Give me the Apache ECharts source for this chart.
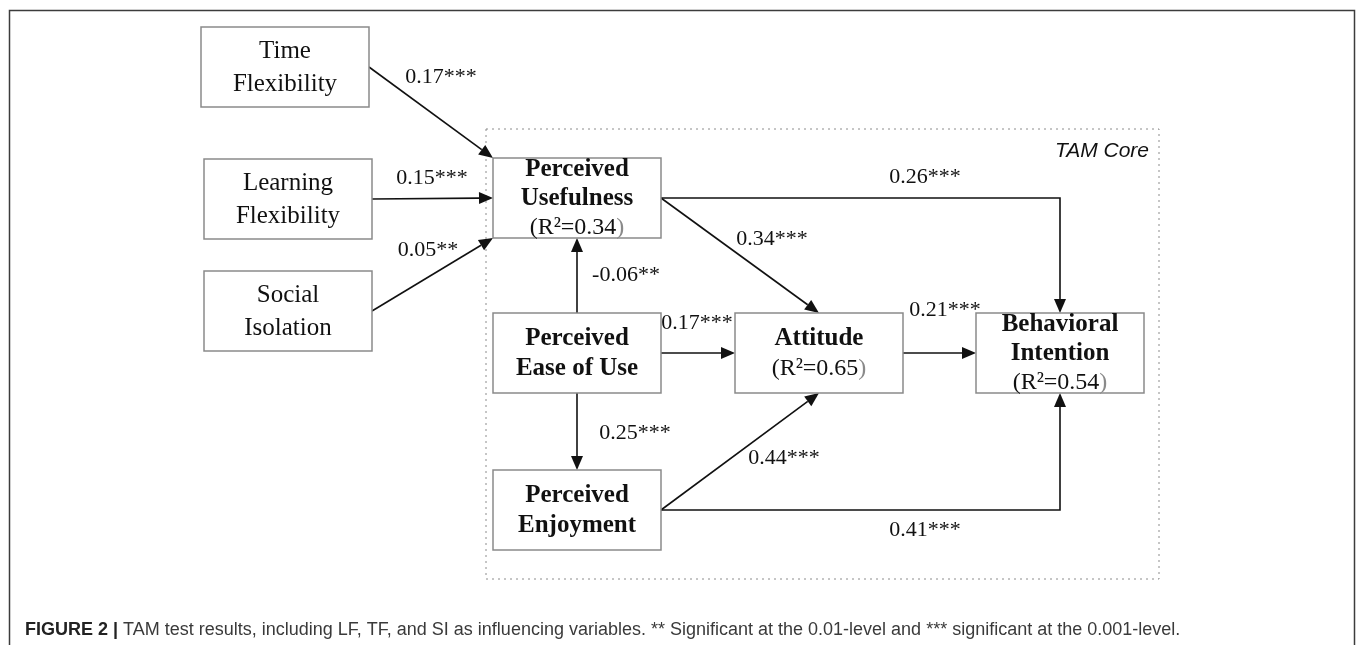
<!DOCTYPE html>
<html>
<head>
    <meta charset="utf-8">
    <title>TAM path model</title>
    <script src="https://cdn.jsdelivr.net/npm/echarts@6/dist/echarts.min.js"></script>
</head>
<body style="margin:0;background:#fff;">
<div id="main" style="width:1360px;height:645px;"></div>
<script type="text/javascript">
    // nodes of the path model (diagram units, y grows downwards)
    var nodeNames = ['Time\nFlexibility', 'Learning\nFlexibility', 'Social\nIsolation',
        'Perceived\nUsefulness', 'Perceived\nEase of Use', 'Perceived\nEnjoyment',
        'Attitude', 'Behavioral\nIntention'];
    var nodeR2 = [null, null, null, '0.34', null, null, '0.65', '0.54'];
    var nodeCore = [false, false, false, true, true, true, true, true];
    var nodeX = [285, 288, 288, 577, 577, 577, 819, 1060];
    var nodeY = [67, 199, 311, 198, 353, 510, 353, 353];

    // paths: from node, to node, coefficient, significance
    var edgeFrom = [0, 1, 2, 4, 3, 3, 4, 6, 4, 5, 5];
    var edgeTo   = [3, 3, 3, 3, 6, 7, 6, 7, 5, 6, 7];
    var edgeCoef = ['0.17', '0.15', '0.05', '-0.06', '0.34', '0.26', '0.17', '0.21', '0.25', '0.44', '0.41'];
    var edgeSig  = ['***', '***', '**', '**', '***', '***', '***', '***', '***', '***', '***'];

    // routing of each path (which box side it leaves / enters, straight or elbow)
    var edgeOut   = ['r', 'r', 'r', 't', 'r', 'r', 'r', 'r', 'b', 'r', 'r'];
    var edgeIn    = ['tl', 'l', 'bl', 'b', 't', 't', 'l', 'l', 't', 'b', 'b'];
    var edgeElbow = [false, false, false, false, false, true, false, false, false, false, true];
    var edgeLabelX = [441, 432, 428, 626, 772, 925, 697, 945, 635, 784, 925];
    var edgeLabelY = [77, 178, 250, 275, 239, 177, 323, 310, 433, 458, 530];

    var BOX_W = 168, BOX_H = 80;
    var SERIF = '"Liberation Serif", "Times New Roman", serif';

    function anchor(i, side) {
        var x = nodeX[i], y = nodeY[i];
        var hw = BOX_W / 2, hh = BOX_H / 2;
        if (side === 'r') return [x + hw, y];
        if (side === 'l') return [x - hw, y];
        if (side === 't') return [x, y - hh];
        if (side === 'b') return [x, y + hh];
        if (side === 'tl') return [x - hw, y - hh];
        if (side === 'bl') return [x - hw, y + hh];
        return [x, y];
    }

    function boxText(i) {
        var lines = nodeNames[i].split('\n');
        var key = nodeCore[i] ? 'b' : 'n';
        var parts = lines.map(function (l) { return '{' + key + '|' + l + '}'; });
        if (nodeR2[i]) parts.push('{r|(R²=' + nodeR2[i] + '}{g|)}');
        return parts.join('\n');
    }

    var myChart = echarts.init(document.getElementById('main'));

    var nodeData = nodeNames.map(function (n, i) { return [nodeX[i], nodeY[i], i]; });
    var edgeData = edgeFrom.map(function (f, i) { return [edgeLabelX[i], edgeLabelY[i], i]; });

    var option = {
        animation: false,
        grid: { left: 0, right: 0, top: 0, bottom: 0 },
        xAxis: { type: 'value', min: 0, max: 1360, show: false },
        yAxis: { type: 'value', min: 0, max: 645, inverse: true, show: false },
        graphic: [
            {   // outer frame
                type: 'rect', left: 7, top: 8, z: 0,
                shape: { width: 1345, height: 700 },
                style: { fill: 'none', stroke: '#3c3c3c', lineWidth: 1.5 }
            },
            {
                type: 'text', left: 25, top: 621,
                style: {
                    text: '{b|FIGURE 2 | }{n|TAM test results, including LF, TF, and SI as influencing variables. ** Significant at the 0.01-level and *** significant at the 0.001-level.}',
                    rich: {
                        b: { fontFamily: '"Liberation Sans", Arial, sans-serif', fontSize: 18, fontWeight: 'bold', fill: '#222' },
                        n: { fontFamily: '"Liberation Sans", Arial, sans-serif', fontSize: 18, fill: '#3a3a3a' }
                    }
                }
            }
        ],
        series: [
            {   // dotted TAM core frame
                type: 'custom',
                coordinateSystem: 'cartesian2d',
                silent: true,
                data: [[0, 0]],
                renderItem: function (params, api) {
                    var xs = [], ys = [];
                    nodeCore.forEach(function (c, i) {
                        if (c) { xs.push(nodeX[i]); ys.push(nodeY[i]); }
                    });
                    var p0 = api.coord([Math.min.apply(null, xs) - BOX_W / 2 - 7, Math.min.apply(null, ys) - BOX_H / 2 - 29]);
                    var p1 = api.coord([Math.max.apply(null, xs) + BOX_W / 2 + 15, Math.max.apply(null, ys) + BOX_H / 2 + 29]);
                    return {
                        type: 'group',
                        children: [
                            {
                                type: 'rect',
                                shape: { x: p0[0], y: p0[1], width: p1[0] - p0[0], height: p1[1] - p0[1] },
                                style: { fill: 'none', stroke: '#8c8c8c', lineWidth: 1, lineDash: [2, 4] }
                            },
                            {
                                type: 'text',
                                style: {
                                    text: 'TAM Core', x: p1[0] - 10, y: p0[1] + 22,
                                    align: 'right', verticalAlign: 'middle',
                                    font: 'italic 21px "Liberation Sans", Arial, sans-serif', fill: '#111'
                                }
                            }
                        ]
                    };
                }
            },
            {   // paths with arrows and coefficients
                type: 'custom',
                coordinateSystem: 'cartesian2d',
                silent: true,
                data: edgeData,
                renderItem: function (params, api) {
                    var i = api.value(2);
                    var a = anchor(edgeFrom[i], edgeOut[i]);
                    var b = anchor(edgeTo[i], edgeIn[i]);
                    var pts = [a];
                    if (edgeElbow[i]) pts.push([b[0], a[1]]);
                    pts.push(b);
                    var px = pts.map(function (p) { return api.coord(p); });
                    var tip = px[px.length - 1], prev = px[px.length - 2];
                    var dx = tip[0] - prev[0], dy = tip[1] - prev[1];
                    var len = Math.sqrt(dx * dx + dy * dy);
                    var ux = dx / len, uy = dy / len;
                    var L = 14, W = 6;
                    var base = [tip[0] - ux * L, tip[1] - uy * L];
                    var line = px.slice(0, px.length - 1).concat([base]);
                    var lab = api.coord([api.value(0), api.value(1)]);
                    return {
                        type: 'group',
                        children: [
                            {
                                type: 'polyline',
                                shape: { points: line },
                                style: { stroke: '#111', lineWidth: 1.6, fill: null }
                            },
                            {
                                type: 'polygon',
                                shape: { points: [tip, [base[0] - uy * W, base[1] + ux * W], [base[0] + uy * W, base[1] - ux * W]] },
                                style: { fill: '#111' }
                            },
                            {
                                type: 'text',
                                style: {
                                    text: edgeCoef[i] + edgeSig[i], x: lab[0], y: lab[1],
                                    align: 'center', verticalAlign: 'middle',
                                    font: '22px ' + SERIF, fill: '#111'
                                }
                            }
                        ]
                    };
                }
            },
            {   // construct boxes
                type: 'custom',
                coordinateSystem: 'cartesian2d',
                silent: true,
                data: nodeData,
                renderItem: function (params, api) {
                    var i = api.value(2);
                    var c = api.coord([api.value(0), api.value(1)]);
                    var s = api.size([BOX_W, BOX_H]);
                    var lh = nodeCore[i] ? (nodeR2[i] && nodeNames[i].indexOf('\n') > 0 ? 29 : 30) : 33;
                    return {
                        type: 'group',
                        children: [
                            {
                                type: 'rect',
                                shape: { x: c[0] - s[0] / 2, y: c[1] - s[1] / 2, width: s[0], height: s[1] },
                                style: { fill: '#fff', stroke: '#8a8a8a', lineWidth: 1.5 }
                            },
                            {
                                type: 'text',
                                style: {
                                    text: boxText(i), x: c[0], y: c[1] + 1,
                                    align: 'center', verticalAlign: 'middle',
                                    rich: {
                                        n: { fontFamily: SERIF, fontSize: 25, lineHeight: lh, fill: '#111' },
                                        b: { fontFamily: SERIF, fontSize: 25, fontWeight: 'bold', lineHeight: lh, fill: '#111' },
                                        r: { fontFamily: SERIF, fontSize: 24, lineHeight: lh, fill: '#111' },
                                        g: { fontFamily: SERIF, fontSize: 24, lineHeight: lh, fill: '#8a8a8a' }
                                    }
                                }
                            }
                        ]
                    };
                }
            }
        ]
    };
    myChart.setOption(option);
</script>
</body>
</html>
